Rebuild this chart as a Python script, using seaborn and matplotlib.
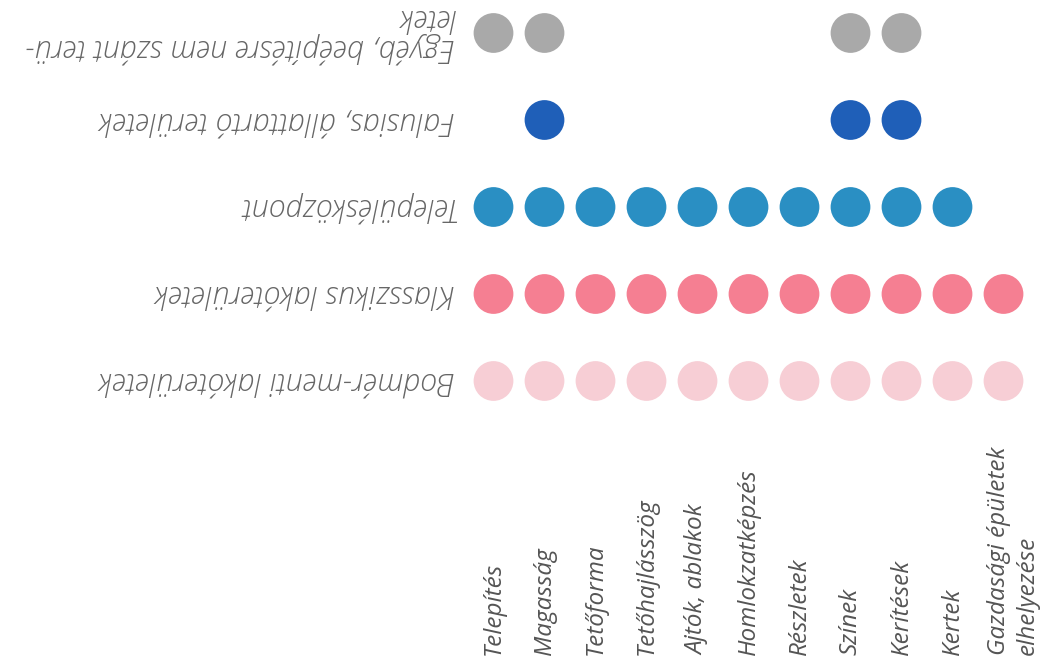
import pandas as pd
import numpy as np
import matplotlib.pyplot as plt
import matplotlib.transforms as mtransforms
import seaborn as sns

sns.set_style("white")
plt.rcParams["font.family"] = ["Open Sans", "DejaVu Sans"]

# data
columns = ["Telepítés", "Magasság", "Tetőforma", "Tetőhajlásszög", "Ajtók, ablakok",
           "Homlokzatképzés", "Részletek", "Színek", "Kerítések", "Kertek",
           "Gazdasági épületek\nelhelyezése"]
areas = ["Egyéb, beépítésre nem szánt terü-\nletek",
         "Falusias, állattartó területek",
         "Településközpont",
         "Klasszikus lakóterületek",
         "Bodmér-menti lakóterületek"]
egyeb = [1, 1, 0, 0, 0, 0, 0, 1, 1, 0, 0]
falusias = [0, 1, 0, 0, 0, 0, 0, 1, 1, 0, 0]
kozpont = [1, 1, 1, 1, 1, 1, 1, 1, 1, 1, 0]
klasszikus = [1, 1, 1, 1, 1, 1, 1, 1, 1, 1, 1]
bodmer = [1, 1, 1, 1, 1, 1, 1, 1, 1, 1, 1]
colors = ["#a9a9a9", "#1f5fb8", "#2a8fc3", "#f57f92", "#f7ced5"]

rows = []
for r, flags in enumerate([egyeb, falusias, kozpont, klasszikus, bodmer]):
    for c, f in enumerate(flags):
        if f:
            rows.append({"area": areas[r], "row": r, "col": c})
df = pd.DataFrame(rows)

fig = plt.figure(figsize=(10.44, 6.69), dpi=100)
ax = fig.add_axes([468 / 1044, 0, 561 / 1044, 1])

sns.scatterplot(data=df, x="col", y="row", hue="area",
                palette=dict(zip(areas, colors)), s=820, edgecolor="none",
                legend=False, ax=ax)

ax.set_xlim(-0.5, len(columns) - 0.5)
ax.set_ylim((669 - 33) / 87, -33 / 87)
ax.axis("off")

# row labels, upside down
trans_rows = mtransforms.blended_transform_factory(fig.transFigure, ax.transData)
for r, name in enumerate(areas):
    ax.text(455 / 1044, r, name, transform=trans_rows, rotation=180,
            ha="right", va="center", multialignment="left", linespacing=0.95,
            fontsize=22, style="italic", fontweight="light", color="#666666")

# column labels
trans_cols = mtransforms.blended_transform_factory(ax.transData, fig.transFigure)
for c, name in enumerate(columns):
    xpos = c + 0.2 if "\n" in name else c
    ax.text(xpos, 14 / 669, name, transform=trans_cols, rotation=90,
            ha="center", va="bottom", multialignment="left", linespacing=1.25,
            fontsize=17.5, style="italic", color="#555555")

fig.savefig("out.png", dpi=100, facecolor="white")
